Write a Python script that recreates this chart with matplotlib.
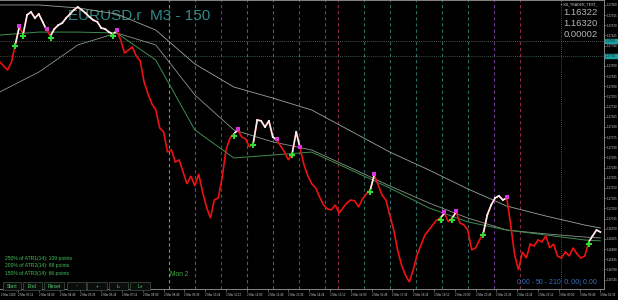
import numpy as np
import matplotlib
matplotlib.use("Agg")
import matplotlib.pyplot as plt
from matplotlib.patches import Rectangle

# ---------------- data ----------------
start_minute = 150          # minutes after 2 Mar 00:00 of the first sampled bar
bar_minutes = 9
close = [
    1.17708, 1.17690, 1.17672, 1.17708, 1.17787, 1.17863, 1.17832, 1.17916, 1.17929, 1.17902,
    1.17920, 1.17885, 1.17849, 1.17823, 1.17854, 1.17871, 1.17880, 1.17902, 1.17920, 1.17938,
    1.17951, 1.17938, 1.17924, 1.17907, 1.17893, 1.17885, 1.17858, 1.17854, 1.17840, 1.17832,
    1.17845, 1.17805, 1.17747, 1.17761, 1.17774, 1.17734, 1.17712, 1.17619, 1.17566, 1.17522,
    1.17495, 1.17416, 1.17398, 1.17309, 1.17318, 1.17265, 1.17274, 1.17221, 1.17168, 1.17203,
    1.17159, 1.17212, 1.17132, 1.17066, 1.17017, 1.17097, 1.17106, 1.17194, 1.17318, 1.17371,
    1.17389, 1.17407, 1.17376, 1.17367, 1.17332, 1.17349, 1.17451, 1.17447, 1.17420, 1.17447,
    1.17376, 1.17362, 1.17336, 1.17309, 1.17274, 1.17305, 1.17398, 1.17327, 1.17252, 1.17203,
    1.17168, 1.17150, 1.17110, 1.17075, 1.17057, 1.17053, 1.17075, 1.17039, 1.17062, 1.17084,
    1.17097, 1.17093, 1.17066, 1.17101, 1.17124, 1.17141, 1.17208, 1.17163, 1.17119, 1.17097,
    1.17031, 1.16964, 1.16876, 1.16809, 1.16765, 1.16734, 1.16787, 1.16854, 1.16898, 1.16942,
    1.16964, 1.16986, 1.17008, 1.17017, 1.17039, 1.17000, 1.17017, 1.17044, 1.16995, 1.16986,
    1.16964, 1.16876, 1.16885, 1.16920, 1.16951, 1.17031, 1.17075, 1.17106, 1.17115, 1.17097,
    1.17106, 1.16986, 1.16854, 1.16787, 1.16867, 1.16840, 1.16902, 1.16893, 1.16920, 1.16911,
    1.16938, 1.16885, 1.16902, 1.16849, 1.16840, 1.16867, 1.16849, 1.16885, 1.16858, 1.16840,
    1.16849, 1.16911, 1.16938, 1.16964, 1.16955,
]
buy_idx = [4, 6, 13, 29, 60, 65, 75, 95, 113, 116, 124, 151]
sell_idx = [5, 12, 30, 61, 71, 77, 96, 114, 117, 130]

ma_idx = [0, 10, 20, 30, 40, 50, 60, 70, 80, 90, 100, 110, 120, 130, 140, 150, 154]
ma_slow = [1.17960, 1.17960, 1.17947, 1.17920, 1.17849, 1.17699, 1.17597, 1.17548, 1.17495,
           1.17402, 1.17309, 1.17230, 1.17146, 1.17070, 1.17026, 1.16986, 1.16973]
ma_mid = [1.17575, 1.17663, 1.17783, 1.17836, 1.17783, 1.17562, 1.17407, 1.17354, 1.17318,
          1.17239, 1.17159, 1.17084, 1.17017, 1.16964, 1.16947, 1.16933, 1.16929]
ma_fast = [1.17827, 1.17840, 1.17840, 1.17836, 1.17716, 1.17407, 1.17283, 1.17296, 1.17309,
           1.17230, 1.17150, 1.17062, 1.17000, 1.16964, 1.16942, 1.16920, 1.16916]

session_times = ["09:00", "10:00", "11:00", "12:00", "13:00", "14:00", "15:00", "15:30",
                 "16:30", "17:30", "18:30", "19:30", "20:30", "21:30", "22:30"]
session_colors = ["#8a8a8a", "#4a5a80", "#3a4a9a", "#5a5a5a", "#5a5a5a", "#6a3a8a", "#6a3a8a",
                  "#8a2a40", "#2a6a64", "#2a6a64", "#2a6a64", "#2a6a64", "#2a6a64", "#6a3a8a",
                  "#8a2a40"]
level_prices = [1.17801, 1.17734]

ytick_labels = ["1.17960", "1.17915", "1.17870", "1.17825", "1.17780", "1.17690",
                "1.17645", "1.17600", "1.17555", "1.17510", "1.17465", "1.17420", "1.17375",
                "1.17330", "1.17285", "1.17240", "1.17195", "1.17150", "1.17105", "1.17060",
                "1.17015", "1.16970", "1.16925", "1.16880", "1.16835", "1.16790", "1.16745"]
xtick_labels = ["2 Mar 03:12", "2 Mar 04:00", "2 Mar 04:48", "2 Mar 05:36", "2 Mar 06:24",
                "2 Mar 07:12", "2 Mar 08:00", "2 Mar 08:48", "2 Mar 09:36", "2 Mar 10:24",
                "2 Mar 11:12", "2 Mar 12:00", "2 Mar 12:48", "2 Mar 13:36", "2 Mar 14:24",
                "2 Mar 15:12", "2 Mar 16:00", "2 Mar 16:48", "2 Mar 17:36", "2 Mar 18:24",
                "2 Mar 19:12", "2 Mar 20:00", "2 Mar 20:48", "2 Mar 21:36", "2 Mar 22:24",
                "2 Mar 23:12", "3 Mar 00:00", "3 Mar 00:48", "3 Mar 01:36"]
info_values = ["1.16322", "1.16320", "0.00002"]
atr_lines = ["250% of ATR1(14): 109 points", "200% of ATR2(14): 88 points",
             "150% of ATR3(14): 66 points"]
buttons = ["Start", "End", "Reset", "-", "+", "L-", "L+"]


def to_minutes(label):
    day, _, hm = label.split(" ")
    h, m = hm.split(":")
    return (int(day) - 2) * 1440 + int(h) * 60 + int(m)


# ---------------- figure ----------------
W, H = 618, 300
FONT = "Liberation Sans"
fig = plt.figure(figsize=(W / 100, H / 100), dpi=100, facecolor="black")
ax = fig.add_axes([0, 11 / H, 604 / W, 289 / H], facecolor="black")

t = start_minute + bar_minutes * np.arange(len(close))
close_a = np.array(close)

ax.set_xlim(150.46, 1544.3)
ax.set_ylim(1.16703, 1.17982)

# session separators
for s, c in zip(session_times, session_colors):
    hh, mm = s.split(":")
    ax.axvline(int(hh) * 60 + int(mm), color=c, lw=0.8, ls=(0, (3, 2.5)), zorder=1)
ax.axvline(1444, color="#6a6a6a", lw=0.6, ls=(0, (1, 1.5)), zorder=1)

# levels
for p, c in zip(level_prices, ["#6a7a6a", "#4f6f5f"]):
    ax.axhline(p, color=c, lw=0.6, ls=(0, (1, 1.5)), zorder=1)

# moving averages
tm = t[ma_idx]
ax.plot(tm, ma_slow, color="#9aa59a", lw=0.6, zorder=2)
ax.plot(tm, ma_mid, color="#8a968a", lw=0.6, zorder=2)
ax.plot(tm, ma_fast, color="#3f8f4f", lw=0.7, zorder=2)

# price line: red, white while long
ax.plot(t, close_a, color="#ee1111", lw=1.2, zorder=3, solid_joinstyle="miter")
long_state = False
buy_set, sell_set = set(buy_idx), set(sell_idx)
for i in range(len(close) - 1):
    if i in buy_set:
        long_state = True
    if i in sell_set:
        long_state = False
    if long_state:
        ax.plot(t[i:i + 2], close_a[i:i + 2], color="#f2f2f2", lw=1.2, zorder=4)

ax.scatter(t[buy_idx], close_a[buy_idx] - 0.00008, marker="P", s=14, color="#33dd33",
           zorder=5, linewidths=0)
ax.scatter(t[sell_idx], close_a[sell_idx] + 0.00004, marker="s", s=10, color="#dd33dd",
           zorder=5, linewidths=0)

# axes styling
ax.spines["left"].set_visible(False)
for side in ["right", "bottom", "top"]:
    ax.spines[side].set_color("#9a9a9a")
    ax.spines[side].set_linewidth(0.6)

ax.yaxis.tick_right()
ax.set_yticks([float(v) for v in ytick_labels])
ax.set_yticklabels(ytick_labels, family=FONT)
ax.tick_params(axis="y", colors="#9a9a9a", labelcolor="#c8c8c8", labelsize=2.2, length=1.2,
               width=0.4, pad=0.5)

ax.set_xticks([to_minutes(l) for l in xtick_labels])
ax.set_xticklabels(xtick_labels, family=FONT)
ax.tick_params(axis="x", colors="#9a9a9a", labelcolor="#c8c8c8", labelsize=2.1, length=2,
               width=0.4, pad=1)
for lbl in ax.get_xticklabels():
    lbl.set_ha("left")
fig.text(1 / W, 1 - 294.5 / H, "2 Mar 2026", fontsize=2.1, color="#c8c8c8", va="center",
         family=FONT)

# level boxes on the price scale
for p in level_prices:
    yy = (p - 1.16703) / (1.17982 - 1.16703)
    fy = 11 / H + yy * 289 / H
    fig.patches.append(Rectangle((604.5 / W, fy - 2.2 / H), 13.5 / W, 4.4 / H,
                                 transform=fig.transFigure, color="#1aa0a0", zorder=6))
    fig.text(605.5 / W, fy, f"{p:.5f}", fontsize=2.0, color="#002020", va="center",
             zorder=7, family=FONT)

# title
ax.text(68 / 604, 1 - 16 / 289, "EURUSD.r  M3 - 150", transform=ax.transAxes,
        fontsize=11, color="#2e8b8b", family=FONT, va="center", zorder=1)

# info panel
fig.text(598 / W, 1 - 4 / H, "\u25aa XB_TRADER_TEST_", fontsize=2.6, color="#d0d0d0",
         ha="right", va="center", family=FONT)
for k, v in enumerate(info_values):
    fig.text(598 / W, 1 - (12.5 + 11.2 * k) / H, v, fontsize=6.8, color="#b4b4b4",
             ha="right", va="center", family=FONT)

# ATR lines
for k, s in enumerate(atr_lines):
    fig.text(5 / W, 1 - (258.3 + 7.7 * k) / H, s, fontsize=3.6, color="#45c25a",
             va="center", family=FONT)

fig.text(170 / W, 1 - 275 / H, "Mon 2", fontsize=4.8, color="#3cb043", va="center",
         family=FONT)

fig.text(598 / W, 1 - 282 / H, "0.00 - 50 - 210  $ 0.00 | $ 0.00", fontsize=4.9,
         color="#3a6fc0", ha="right", va="center", family=FONT)

# buttons
btn_x = [(3, 21), (23, 42), (44, 64), (67, 86), (87, 107), (109, 128), (130, 150)]
for (x0, x1), b in zip(btn_x, buttons):
    fig.patches.append(Rectangle((x0 / W, 1 - 290 / H), (x1 - x0) / W, 8 / H,
                                 transform=fig.transFigure, facecolor="#0c0c0c",
                                 edgecolor="#3e5a46", lw=0.5, zorder=8))
    fig.text((x0 + x1) / 2 / W, 1 - 286 / H, b, fontsize=3.6, color="#4ecf6a",
             ha="center", va="center", family=FONT, zorder=9)

fig.savefig("out.png", dpi=100, facecolor="black")
